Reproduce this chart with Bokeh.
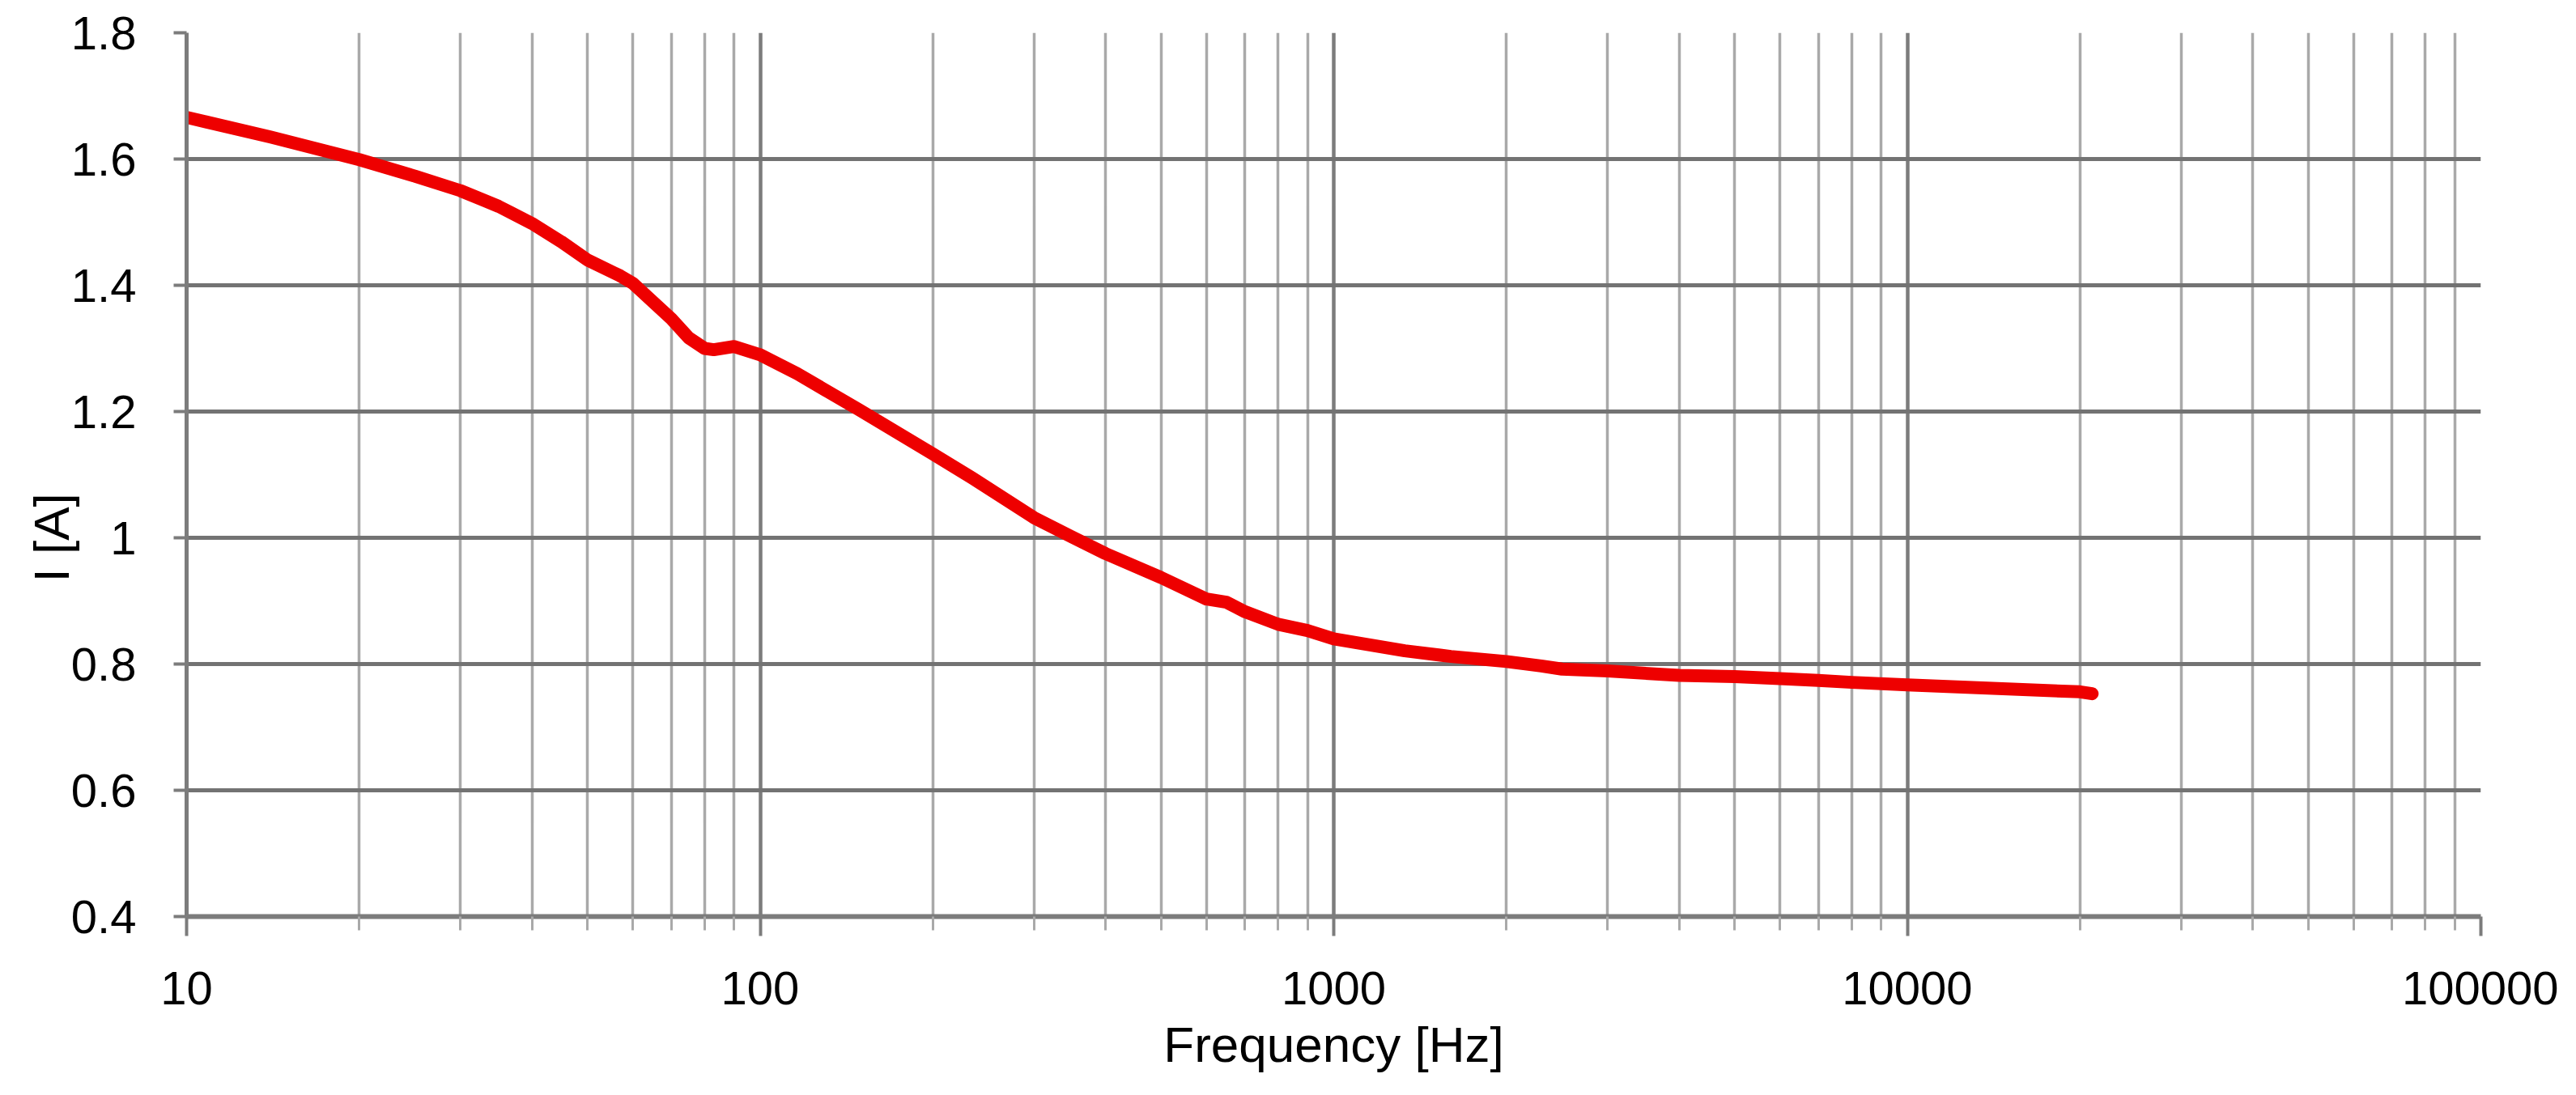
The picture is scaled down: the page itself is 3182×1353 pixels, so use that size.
from bokeh.plotting import figure
from bokeh.models import FixedTicker, NumeralTickFormatter, Title
from bokeh.embed import file_html
from bokeh.resources import INLINE

# ---- data ----
freq_hz = [10, 14, 20, 25, 30, 35, 40, 45, 50, 57, 60, 65, 70, 75, 80, 83,
           90, 100, 116, 148, 200, 234, 300, 350, 400, 500, 600, 650, 700,
           800, 900, 1000, 1330, 1600, 2000, 2300, 2500, 3000, 4000, 5000,
           6000, 7000, 8000, 10000, 20000, 21000]
current_a = [1.666, 1.635, 1.599, 1.573, 1.550, 1.525, 1.498, 1.469, 1.440,
             1.415, 1.403, 1.374, 1.347, 1.317, 1.300, 1.298, 1.303, 1.290,
             1.260, 1.204, 1.133, 1.095, 1.032, 1.001, 0.975, 0.937, 0.903,
             0.898, 0.883, 0.863, 0.853, 0.840, 0.821, 0.812, 0.804, 0.797,
             0.792, 0.789, 0.782, 0.780, 0.777, 0.774, 0.771, 0.767, 0.756,
             0.753]

x_decades = [10, 100, 1000, 10000, 100000]
y_ticks = [0.4, 0.6, 0.8, 1.0, 1.2, 1.4, 1.6, 1.8]
x_title = "Frequency [Hz]"
y_title = "I [A]"

FONT = "Liberation Sans"
MAJOR = "#7c7c7c"
MINOR = "#a9a9a9"

p = figure(width=3160, height=1330, x_axis_type="log",
           x_range=(10, 100000), y_range=(0.4, 1.8),
           output_backend="svg", toolbar_location=None,
           min_border_left=230, min_border_right=96,
           min_border_top=40, min_border_bottom=198)
p.outline_line_color = None
p.background_fill_color = "white"
p.border_fill_color = "white"

minor = [m * d for d in x_decades[:-1] for m in range(2, 10)]
p.xaxis.ticker = FixedTicker(ticks=x_decades, minor_ticks=minor)
p.yaxis.ticker = FixedTicker(ticks=y_ticks)
p.xaxis.formatter = NumeralTickFormatter(format="0")
p.yaxis.formatter = NumeralTickFormatter(format="0.[0]")

# grids
p.xgrid.grid_line_color = MAJOR
p.xgrid.grid_line_width = 4.5
p.xgrid.minor_grid_line_color = MINOR
p.xgrid.minor_grid_line_width = 3.5
p.ygrid.grid_line_color = "#737373"
p.ygrid.grid_line_width = 5

# axes
for ax in (p.xaxis[0], p.yaxis[0]):
    ax.axis_line_color = MAJOR
    ax.axis_line_width = 5
    ax.major_tick_line_color = MAJOR
    ax.major_tick_line_width = 4
    ax.major_tick_in = 0
    ax.minor_tick_in = 0
    ax.major_label_text_font = FONT
    ax.major_label_text_font_size = "58px"
    ax.major_label_text_color = "black"
    ax.axis_label_text_font = FONT
    ax.axis_label_text_font_style = "normal"
    ax.axis_label_text_font_size = "62px"
    ax.axis_label_text_color = "black"

p.xaxis.axis_line_width = 6
p.xaxis.major_tick_out = 24
p.xaxis.minor_tick_out = 17
p.xaxis.minor_tick_line_color = MINOR
p.xaxis.minor_tick_line_width = 3
p.xaxis.major_label_standoff = 44
p.xaxis.axis_label = x_title
p.xaxis.axis_label_standoff = 12

p.yaxis.major_tick_out = 16
p.yaxis.minor_tick_line_color = None
p.yaxis.major_label_standoff = 46

ytitle = Title(text=y_title, align="left", offset=413, standoff=-26,
               text_font=FONT, text_font_size="62px",
               text_font_style="normal", text_color="black")
p.add_layout(ytitle, "left")

p.line(freq_hz, current_a, line_width=16, line_color="#ee0000",
       line_join="round", line_cap="round")

open("out.html", "w").write(file_html(p, INLINE))
